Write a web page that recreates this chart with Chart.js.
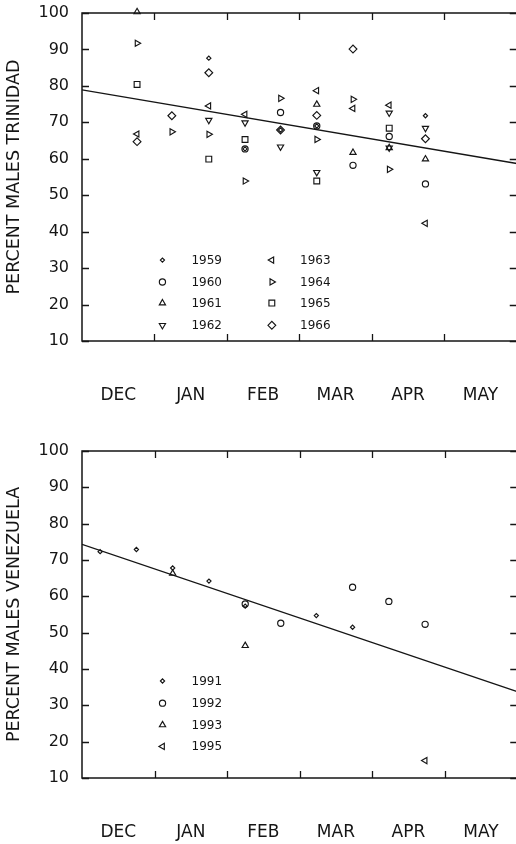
<!DOCTYPE html>
<html><head><meta charset="utf-8">
<script src="https://cdn.jsdelivr.net/npm/chart.js@4/dist/chart.umd.min.js"></script>
<style>
html,body{margin:0;padding:0;background:#fff;overflow:hidden;width:516px;height:844px;}
#wrap{position:relative;width:522px;height:844px;overflow:hidden;}
canvas{position:absolute;left:0;}
#c1{top:0}
#c2{top:422px}
</style></head><body>
<div id="wrap"><canvas id="c1" width="522" height="422"></canvas><canvas id="c2" width="522" height="422"></canvas></div>
<script>
// ---------- categories / ticks ----------
const months = ['DEC','JAN','FEB','MAR','APR','MAY'];
const monthBounds = [1,2,3,4,5];
const yTickValues = [10,20,30,40,50,60,70,80,90,100];

// ---------- Trinidad (top) : x = months since 1 Dec ----------
const t1959x = [1.75, 2.25, 2.74, 3.24, 4.74];
const t1959y = [87.6, 62.7, 67.9, 69.0, 71.8];
const t1960x = [2.25, 2.74, 3.24, 3.74, 4.24, 4.74];
const t1960y = [62.7, 72.7, 69.0, 58.2, 66.1, 53.1];
const t1961x = [0.76, 3.24, 3.74, 4.24, 4.74];
const t1961y = [100.3, 74.9, 61.7, 63.0, 59.9];
const t1962x = [1.75, 2.25, 2.74, 3.24, 4.24, 4.24, 4.74];
const t1962y = [70.6, 69.9, 63.3, 56.3, 72.6, 63.0, 68.4];
const t1963x = [0.76, 1.75, 2.25, 3.24, 3.74, 4.24, 4.74];
const t1963y = [66.8, 74.5, 72.2, 78.7, 73.8, 74.7, 42.3];
const t1964x = [0.76, 1.24, 1.75, 2.25, 2.74, 3.24, 3.74, 4.24];
const t1964y = [91.7, 67.4, 66.7, 53.9, 76.6, 65.3, 76.3, 57.1];
const t1965x = [0.76, 1.75, 2.25, 3.24, 4.24];
const t1965y = [80.4, 59.9, 65.3, 53.9, 68.4];
const t1966x = [0.76, 1.24, 1.75, 2.74, 3.24, 3.74, 4.74];
const t1966y = [64.7, 71.8, 83.6, 67.9, 71.9, 90.1, 65.5];
const tFitX = [0, 6];
const tFitY = [78.9, 58.7];

// ---------- Venezuela (bottom) ----------
const v1991x = [0.25, 0.75, 1.25, 1.75, 2.25, 3.23, 3.73];
const v1991y = [72.3, 72.9, 67.8, 64.2, 57.3, 54.7, 51.5];
const v1992x = [2.25, 2.74, 3.73, 4.23, 4.73];
const v1992y = [57.9, 52.6, 62.5, 58.6, 52.3];
const v1993x = [1.25, 2.25];
const v1993y = [66.3, 46.4];
const v1995x = [4.73];
const v1995y = [14.8];
const vFitX = [0, 6];
const vFitY = [74.3, 33.8];

// ---------- styles ----------
const INK = '#151515';
const FONT = 'DejaVu Sans';
const markers = {
  smallDiamond: {pointStyle:'rectRot', rotation:0, radius:2.1},
  circle:       {pointStyle:'circle', rotation:0, radius:3.1},
  triUp:        {pointStyle:'triangle', rotation:0, radius:3.6},
  triDown:      {pointStyle:'triangle', rotation:180, radius:3.6},
  triLeft:      {pointStyle:'triangle', rotation:270, radius:3.6},
  triRight:     {pointStyle:'triangle', rotation:90, radius:3.6},
  square:       {pointStyle:'rect', rotation:0, radius:4.1},
  diamond:      {pointStyle:'rectRot', rotation:0, radius:3.9}
};

function pts(xs, ys){ return xs.map((x,i)=>({x:x, y:ys[i]})); }
function scatterDs(label, xs, ys, m){
  return {type:'scatter', label, data:pts(xs,ys), showLine:false, clip:false,
    pointStyle:m.pointStyle, pointRotation:m.rotation, pointRadius:m.radius, pointHoverRadius:m.radius,
    pointBorderColor:INK, pointBackgroundColor:'rgba(0,0,0,0)', pointBorderWidth:1.15};
}
function fitDs(xs, ys){
  return {type:'line', label:'fit', data:pts(xs,ys), showLine:true, borderColor:INK, borderWidth:1.3,
    pointRadius:0, fill:false, tension:0};
}

const framePlugin = {
  id:'frame',
  afterDatasetsDraw(chart){
    const {ctx, chartArea:a, scales:{x,y}} = chart;
    ctx.save();
    ctx.strokeStyle = INK; ctx.lineWidth = 1.5;
    ctx.strokeRect(a.left, a.top, a.right-a.left, a.bottom-a.top);
    ctx.lineWidth = 1.3;
    ctx.beginPath();
    yTickValues.forEach(v=>{
      const py = Math.round(y.getPixelForValue(v))+0.5;
      ctx.moveTo(a.left, py); ctx.lineTo(a.left+7, py);
      ctx.moveTo(a.right-7, py); ctx.lineTo(a.right, py);
    });
    monthBounds.forEach(v=>{
      const px = Math.round(x.getPixelForValue(v))+0.5;
      ctx.moveTo(px, a.top); ctx.lineTo(px, a.top+7);
      ctx.moveTo(px, a.bottom-7); ctx.lineTo(px, a.bottom);
    });
    ctx.stroke();
    ctx.restore();
  }
};

const keyPlugin = {
  id:'key',
  afterDatasetsDraw(chart, args, opts){
    if(!opts.items) return;
    const {ctx, scales:{x,y}} = chart;
    ctx.save();
    ctx.font = '12px "' + FONT + '"';
    ctx.textBaseline = 'middle';
    ctx.textAlign = 'left';
    opts.items.forEach(it=>{
      const px = x.getPixelForValue(it.sx), py = y.getPixelForValue(it.sy);
      ctx.strokeStyle = INK; ctx.lineWidth = 1.15; ctx.fillStyle = 'rgba(0,0,0,0)';
      Chart.helpers.drawPoint(ctx, {pointStyle:it.m.pointStyle, rotation:it.m.rotation, radius:it.m.radius, borderWidth:1.15}, px, py);
      ctx.fillStyle = INK;
      ctx.fillText(it.label, x.getPixelForValue(it.tx), py + 0.5);
    });
    ctx.restore();
  }
};

function makeChart(id, datasets, yTitle, padTop, xAxisH, keyItems){
  return new Chart(document.getElementById(id), {
    data:{datasets},
    plugins:[framePlugin, keyPlugin],
    options:{
      responsive:false, animation:false, devicePixelRatio:1,
      layout:{padding:{top:padTop, right:0, bottom:0, left:0}},
      plugins:{legend:{display:false}, tooltip:{enabled:false}, key:{items:keyItems}},
      scales:{
        x:{type:'linear', min:0, max:6,
          afterFit(s){ s.height = xAxisH; s.paddingLeft = 0; s.paddingRight = 0; },
          afterBuildTicks(s){ s.ticks = months.map((m,i)=>({value:i+0.5})); },
          ticks:{autoSkip:false, maxRotation:0, padding:44, color:INK,
            font:{family:FONT, size:17},
            callback:(v)=> months[Math.floor(v)] },
          grid:{display:false, drawTicks:false}, border:{display:false}},
        y:{type:'linear', min:10, max:100,
          afterFit(s){ s.width = 82; s.paddingTop = 0; s.paddingBottom = 0; },
          ticks:{stepSize:10, padding:13, color:INK, font:{family:FONT, size:16}},
          grid:{display:false, drawTicks:false}, border:{display:false},
          title:{display:true, text:yTitle, color:INK, font:{family:FONT, size:17.5}, padding:{top:4, bottom:0}}}
      }
    }
  });
}

const keyX1 = 1.11, keyT1 = 1.51, keyX2 = 2.62, keyT2 = 3.01;
makeChart('c1', [
  fitDs(tFitX, tFitY),
  scatterDs('1959', t1959x, t1959y, markers.smallDiamond),
  scatterDs('1960', t1960x, t1960y, markers.circle),
  scatterDs('1961', t1961x, t1961y, markers.triUp),
  scatterDs('1962', t1962x, t1962y, markers.triDown),
  scatterDs('1963', t1963x, t1963y, markers.triLeft),
  scatterDs('1964', t1964x, t1964y, markers.triRight),
  scatterDs('1965', t1965x, t1965y, markers.square),
  scatterDs('1966', t1966x, t1966y, markers.diamond)
], 'PERCENT MALES TRINIDAD', 13, 81, [
  {label:'1959', m:markers.smallDiamond, sx:keyX1, tx:keyT1, sy:32.2},
  {label:'1960', m:markers.circle, sx:keyX1, tx:keyT1, sy:26.2},
  {label:'1961', m:markers.triUp, sx:keyX1, tx:keyT1, sy:20.4},
  {label:'1962', m:markers.triDown, sx:keyX1, tx:keyT1, sy:14.3},
  {label:'1963', m:markers.triLeft, sx:keyX2, tx:keyT2, sy:32.2},
  {label:'1964', m:markers.triRight, sx:keyX2, tx:keyT2, sy:26.2},
  {label:'1965', m:markers.square, sx:keyX2, tx:keyT2, sy:20.4},
  {label:'1966', m:markers.diamond, sx:keyX2, tx:keyT2, sy:14.3}
]);

makeChart('c2', [
  fitDs(vFitX, vFitY),
  scatterDs('1991', v1991x, v1991y, markers.smallDiamond),
  scatterDs('1992', v1992x, v1992y, markers.circle),
  scatterDs('1993', v1993x, v1993y, markers.triUp),
  scatterDs('1995', v1995x, v1995y, markers.triLeft)
], 'PERCENT MALES VENEZUELA', 29, 66, [
  {label:'1991', m:markers.smallDiamond, sx:keyX1, tx:keyT1, sy:36.7},
  {label:'1992', m:markers.circle, sx:keyX1, tx:keyT1, sy:30.6},
  {label:'1993', m:markers.triUp, sx:keyX1, tx:keyT1, sy:24.6},
  {label:'1995', m:markers.triLeft, sx:keyX1, tx:keyT1, sy:18.7}
]);
</script>
</body></html>
